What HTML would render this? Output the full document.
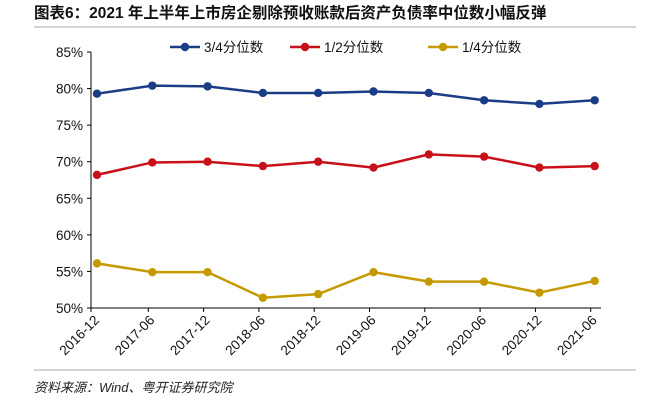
<!DOCTYPE html>
<html><head><meta charset="utf-8"><style>
body{margin:0;background:#fff;width:646px;height:402px;overflow:hidden;font-family:"Liberation Sans","Noto Sans CJK SC",sans-serif}
</style></head><body>
<svg width="646" height="402" xmlns="http://www.w3.org/2000/svg" id="svg">
<text x="34" y="18" font-size="15.5" font-weight="bold" fill="#111">图表6：2021 年上半年上市房企剔除预收账款后资产负债率中位数小幅反弹</text>
<line x1="34" y1="27" x2="636" y2="27" stroke="#aaa" stroke-width="1"/>
<line x1="34" y1="370" x2="636" y2="370" stroke="#aaa" stroke-width="1"/>
<text x="34" y="392" font-size="13" font-style="italic" fill="#222">资料来源：Wind、粤开证券研究院</text>
<g id="plot"></g>
</svg>
<script>
const categories=["2016-12","2017-06","2017-12","2018-06","2018-12","2019-06","2019-12","2020-06","2020-12","2021-06"];
const q3=[79.3,80.4,80.3,79.4,79.4,79.6,79.4,78.4,77.9,78.4];
const q2=[68.2,69.9,70.0,69.4,70.0,69.2,71.0,70.7,69.2,69.4];
const q1=[56.1,54.9,54.9,51.4,51.9,54.9,53.6,53.6,52.1,53.7];
const yTicks=[50,55,60,65,70,75,80,85];
const seriesNames=["3/4分位数","1/2分位数","1/4分位数"];
const NS="http://www.w3.org/2000/svg";
const g=document.getElementById('plot');
const X0=91,X1=601,Y0=308,Y1=52;
const y=v=>Y0-(v-50)/35*(Y0-Y1);
const x=i=>97+i*55.3;
function mk(t,a){const e=document.createElementNS(NS,t);for(const k in a)e.setAttribute(k,a[k]);g.appendChild(e);return e;}
let e=mk('line',{x1:X0,y1:Y1,x2:X0,y2:Y0,stroke:'#000'});

e=mk('line',{x1:X0,y1:Y0,x2:X1,y2:Y0,stroke:'#000'});

yTicks.forEach(v=>{
 const t=mk('line',{x1:X0-4,y1:y(v),x2:X0,y2:y(v),stroke:'#000'});
 
 const l=mk('text',{x:X0-8,y:y(v)+5,'font-size':13.5,'text-anchor':'end',fill:'#111'});
 l.textContent=v+'%';
 
});
categories.forEach((c,i)=>{
 const tx=i==0?X0:x(i)-4;
 const t=mk('line',{x1:tx,y1:Y0,x2:tx,y2:Y0+4,stroke:'#000'});
 
 const l=mk('text',{x:0,y:0,'font-size':13.5,'text-anchor':'end',fill:'#111',transform:`translate(${x(i)+3},${Y0+13}) rotate(-45)`});
 l.textContent=c;
 
});
const colors=['#1a3d85','#c8101a','#c49a00'];
[q3,q2,q1].forEach((s,k)=>{
 const p=mk('polyline',{points:s.map((v,i)=>x(i)+','+y(v)).join(' '),fill:'none',stroke:colors[k],'stroke-width':2.5});
 
 s.forEach((v,i)=>{const c=mk('circle',{cx:x(i),cy:y(v),r:4.2,fill:colors[k]});
  });
 const lx=[170,290,428][k];
 const ll=mk('line',{x1:lx,y1:47,x2:lx+30,y2:47,stroke:colors[k],'stroke-width':2.5});
 
 const lc=mk('circle',{cx:lx+15,cy:47,r:4.2,fill:colors[k]});
 
 const lt=mk('text',{x:lx+34,y:52,'font-size':13.5,fill:'#111'});
 lt.textContent=seriesNames[k];
 
});
</script>
</body></html>
